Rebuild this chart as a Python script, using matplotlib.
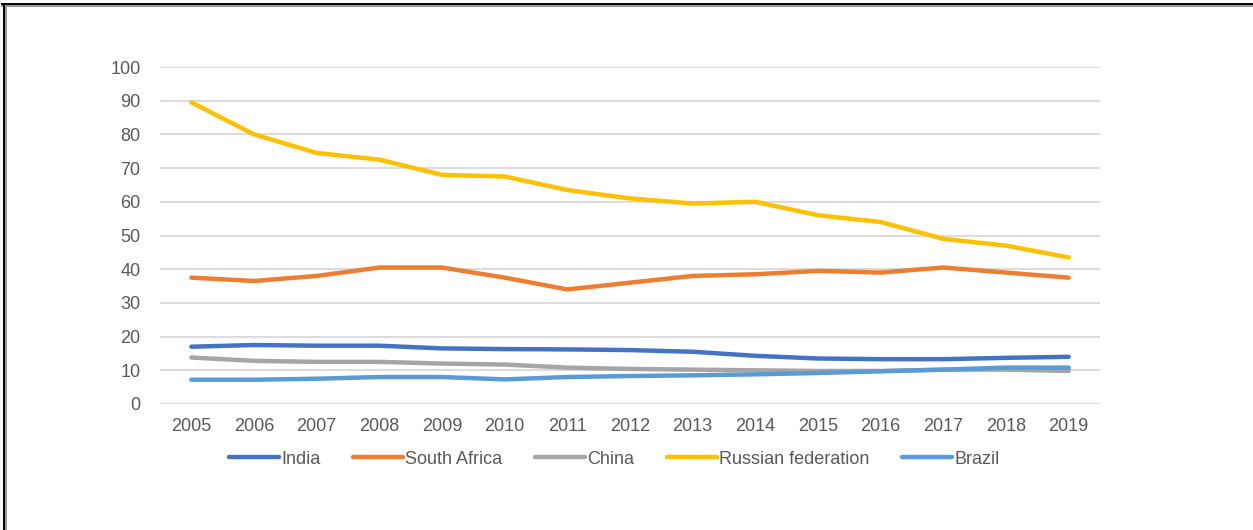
import numpy as np
import matplotlib.pyplot as plt
from matplotlib.lines import Line2D
from matplotlib.patches import Rectangle

years = ["2005", "2006", "2007", "2008", "2009", "2010", "2011", "2012",
         "2013", "2014", "2015", "2016", "2017", "2018", "2019"]

india = [17.0, 17.5, 17.3, 17.3, 16.5, 16.3, 16.2, 16.0, 15.5, 14.3, 13.5, 13.3, 13.3, 13.7, 14.0]
south_africa = [37.5, 36.5, 38.0, 40.5, 40.5, 37.5, 34.0, 36.0, 38.0, 38.5, 39.5, 39.0, 40.5, 39.0, 37.5]
china = [13.8, 12.8, 12.5, 12.5, 12.0, 11.7, 10.8, 10.4, 10.2, 10.0, 9.8, 9.8, 10.2, 10.2, 9.8]
russia = [89.5, 80.0, 74.5, 72.5, 68.0, 67.5, 63.5, 61.0, 59.5, 60.0, 56.0, 54.0, 49.0, 47.0, 43.5]
brazil = [7.2, 7.2, 7.5, 8.0, 8.0, 7.3, 8.0, 8.3, 8.5, 8.8, 9.2, 9.7, 10.2, 10.8, 10.8]

names = ["India", "South Africa", "China", "Russian federation", "Brazil"]
colors = ["#4472C4", "#ED7D31", "#A5A5A5", "#FFC000", "#5B9BD5"]

plt.rcParams['font.family'] = ['Liberation Sans', 'DejaVu Sans']

fig = plt.figure(figsize=(12.53, 5.30), dpi=100)
ax = fig.add_axes([160 / 1253, 1 - 404 / 530, 940 / 1253, 337 / 530])

x = np.arange(len(years))
for vals, name, c in zip([india, south_africa, china, russia, brazil], names, colors):
    ax.plot(x, vals, color=c, lw=3.2, label=name, solid_joinstyle='round',
            solid_capstyle='round', zorder=3)

ax.set_xlim(-0.5, len(years) - 0.5)
ax.set_ylim(0, 100)
ax.set_yticks(range(0, 101, 10))
ax.set_xticks(x)
ax.set_xticklabels(years)
ax.grid(axis='y', color='#D9D9D9', lw=1.3)
ax.set_axisbelow(True)
for s in ax.spines.values():
    s.set_visible(False)
ax.tick_params(length=0, colors='#595959', labelsize=13)
ax.tick_params(axis='y', pad=14)
ax.tick_params(axis='x', pad=10)

leg = fig.legend(loc='center', bbox_to_anchor=(614 / 1253, 1 - 459 / 530), ncol=5,
                 frameon=False, fontsize=13, handlelength=2.8, handletextpad=0.1,
                 columnspacing=1.8, labelcolor='#595959')
for h in leg.get_lines():
    h.set_linewidth(3.2)
    h.set_solid_capstyle('round')

# the legend row is cut at the bottom
fig.patches.append(Rectangle((10 / 1253, 0), 1, 1 - 464 / 530, transform=fig.transFigure,
                             facecolor='white', edgecolor='none', zorder=10))

# frame lines on top and left
fig.lines.append(Line2D([2 / 1253, 1], [1 - 5 / 530, 1 - 5 / 530], transform=fig.transFigure,
                        color='#999999', lw=2.2, zorder=11))
fig.lines.append(Line2D([2 / 1253, 1], [1 - 4 / 530, 1 - 4 / 530], transform=fig.transFigure,
                        color='black', lw=1.4, zorder=12))
fig.lines.append(Line2D([5 / 1253, 5 / 1253], [0, 1 - 4 / 530], transform=fig.transFigure,
                        color='#999999', lw=2.2, zorder=11))
fig.lines.append(Line2D([4 / 1253, 4 / 1253], [0, 1 - 4 / 530], transform=fig.transFigure,
                        color='black', lw=1.4, zorder=12))

fig.savefig('out.png', dpi=100)
